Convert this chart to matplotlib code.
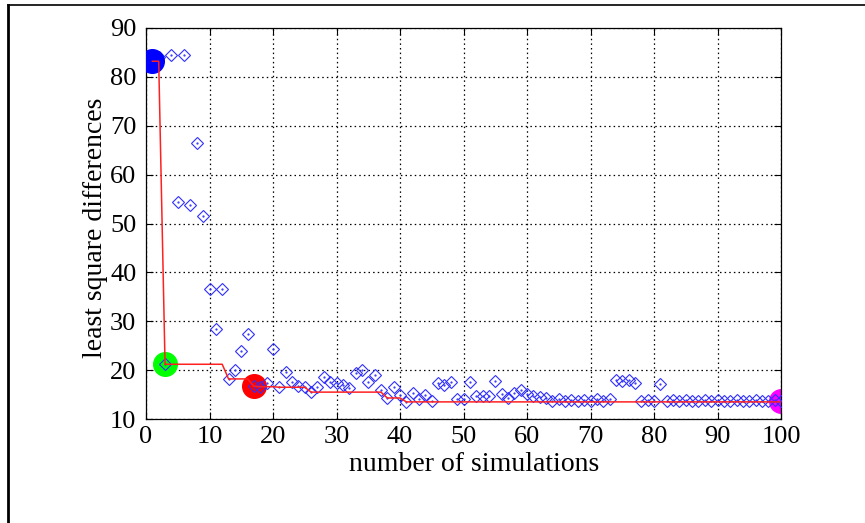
import numpy as np
import matplotlib
matplotlib.use("Agg")
import matplotlib.pyplot as plt
from matplotlib.lines import Line2D

# least square difference for each simulation run
lsq = [83.2, 84.0, 21.2, 84.4, 54.4, 84.4, 53.7, 66.4, 51.5, 36.7,
       28.5, 36.7, 18.2, 20.0, 23.9, 27.3, 16.7, 16.6, 17.3, 24.3,
       16.5, 19.6, 17.5, 16.7, 16.5, 15.5, 16.6, 18.6, 17.5, 17.3,
       16.9, 16.3, 19.5, 20.0, 17.6, 19.1, 15.9, 14.3, 16.5, 14.9,
       13.5, 15.4, 14.1, 14.9, 13.7, 17.3, 17.0, 17.6, 14.1, 14.1,
       17.5, 14.7, 14.7, 14.7, 17.8, 15.2, 14.2, 15.4, 15.9, 15.2,
       14.7, 14.6, 14.2, 13.6, 14.0, 13.6, 13.9, 13.6, 13.8, 13.7,
       14.0, 13.6, 14.0, 18.0, 17.8, 18.0, 17.3, 13.7, 13.8, 13.6,
       17.1, 13.7, 13.9, 13.6, 13.8, 13.6, 13.7, 13.9, 13.6, 13.8,
       13.6, 13.7, 13.8, 13.6, 13.7, 13.8, 13.6, 13.7, 13.8, 13.6]
runs = np.arange(1, len(lsq) + 1)

# highlighted runs and their colours (first one sits on top of the diamonds)
hl_runs = [1, 3, 17, 100]
hl_colors = ["#0000ff", "#00ff00", "#ff0000", "#ff00ff"]
hl_z = [5, 2, 2, 2]

xticks = list(range(0, 101, 10))
yticks = list(range(10, 91, 10))

plt.rcParams["font.family"] = ["Liberation Serif", "DejaVu Serif"]

fig = plt.figure(figsize=(8.65, 5.23), dpi=100)
ax = fig.add_axes([146 / 865, 1 - 419 / 523, (781 - 146) / 865, (419 - 28) / 523])

best = np.minimum.accumulate(lsq)

for r, c, z in zip(hl_runs, hl_colors, hl_z):
    ax.plot(r, lsq[r - 1], "o", ms=17, color=c, mec=c, zorder=z)

ax.plot(runs, best, "-", color="#ff2020", lw=1.1, zorder=6)
ax.plot(runs, lsq, "D", ms=6.2, mfc="none", mec="#3030ff", mew=0.8, ls="none", zorder=4)
ax.plot(runs, lsq, ".", ms=1.2, color="#3030ff", ls="none", zorder=4)

ax.set_xlim(0, 100)
ax.set_ylim(10, 90)
ax.set_xticks(xticks)
ax.set_yticks(yticks)
ax.grid(True, color="black", ls=(0, (1.2, 2.5)), lw=0.9)
ax.tick_params(direction="in", top=True, right=True, length=5, labelsize=19)
ax.tick_params(axis="x", pad=5)
ax.tick_params(axis="y", pad=7)
for s in ax.spines.values():
    s.set_linewidth(0.9)

ax.set_xlabel("number of simulations", fontsize=20, labelpad=3)
ax.xaxis.set_label_coords(0.517, -0.085)
ax.set_ylabel("least square differences", fontsize=20, labelpad=5)
ax.yaxis.set_label_coords(-0.06, 0.49)

# outer frame bits
fig.add_artist(Line2D([8 / 865, 8 / 865], [0, 1 - 5 / 523], color="black", lw=2))
fig.add_artist(Line2D([8 / 865, 1], [1 - 5 / 523, 1 - 5 / 523], color="black", lw=1.2))

fig.savefig("out.png", dpi=100)
